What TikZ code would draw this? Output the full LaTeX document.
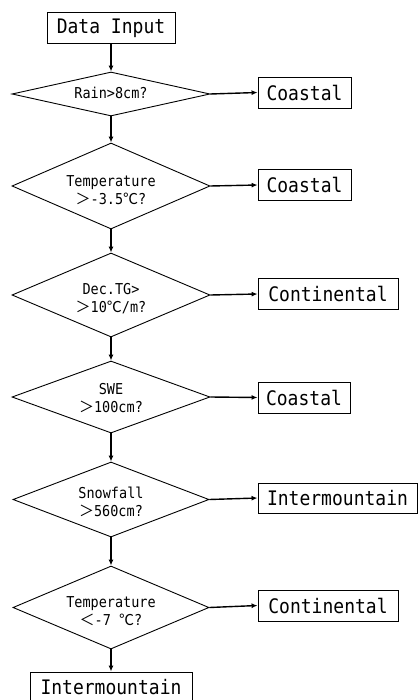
\documentclass[tikz,border=0pt]{standalone}
\usepackage{fontspec}
\setmainfont{DejaVu Sans Mono}[FakeStretch=0.9]
\newfontfamily\cjk{Noto Sans CJK JP}
\usetikzlibrary{shapes.geometric,arrows.meta}
\newcommand\dtxt[2]{\raisebox{-#1}[\height][\depth]{\begin{tabular}{@{}c@{}}#2\end{tabular}}}
\tikzset{
  bigbox/.style={draw,line width=0.9pt,inner sep=0pt,minimum height=31pt,
    font=\fontsize{20}{22}\selectfont},
  dec/.style={draw,diamond,line width=0.9pt,inner sep=0pt,minimum width=198pt,
    font=\fontsize{15}{18}\selectfont},
  arr/.style={line width=1.4pt,-{Latex[length=6pt,width=5pt]}}
}
\begin{document}
\begin{tikzpicture}[x=1pt,y=-1pt]
\useasboundingbox (0,0) rectangle (418,700);
\node[bigbox,minimum width=128pt] (in) at (111,28) {Data Input};
\node[dec,minimum height=44pt,shape aspect=4.5] (d1) at (111,94) {\dtxt{1pt}{Rain>8cm?}};
\node[dec,minimum height=86pt,shape aspect=2.3] (d2) at (111,186) {\dtxt{6pt}{Temperature\\{\cjk ＞}-3.5{\cjk ℃}?}};
\node[dec,minimum height=84pt,shape aspect=2.36] (d3) at (111,295) {\dtxt{5pt}{Dec.TG>\\{\cjk ＞}10{\cjk ℃}/m?}};
\node[dec,minimum height=72pt,shape aspect=2.75] (d4) at (111,397) {\dtxt{3pt}{SWE\\{\cjk ＞}100cm?}};
\node[dec,minimum height=75pt,minimum width=196pt,shape aspect=2.61] (d5) at (111,499.5) {\dtxt{4pt}{Snowfall\\{\cjk ＞}560cm?}};
\node[dec,minimum height=83pt,minimum width=196pt,shape aspect=2.36] (d6) at (111,607.5) {\dtxt{5pt}{Temperature\\{\cjk ＜}-7 {\cjk ℃}?}};
\node[bigbox,minimum width=93pt] (c1) at (304.5,92.5) {Coastal};
\node[bigbox,minimum width=93pt] (c2) at (304.5,185) {Coastal};
\node[bigbox,minimum width=140pt] (c3) at (328,294) {Continental};
\node[bigbox,minimum width=92pt] (c4) at (304,397.5) {Coastal};
\node[bigbox,minimum width=159pt,minimum height=30pt] (c5) at (337.5,498) {Intermountain};
\node[bigbox,minimum width=140pt] (c6) at (328,605.5) {Continental};
\node[bigbox,minimum width=162pt] (out) at (111,687.5) {Intermountain};
\draw[arr] (in.south) -- (d1.north);
\draw[arr] (d1.south) -- (d2.north);
\draw[arr] (d2.south) -- (d3.north);
\draw[arr] (d3.south) -- (d4.north);
\draw[arr] (d4.south) -- (d5.north);
\draw[arr] (d5.south) -- (d6.north);
\draw[arr] (d6.south) -- (out.north);
\draw[arr] (d1.east) -- (c1.west);
\draw[arr] (d2.east) -- (c2.west);
\draw[arr] (d3.east) -- (c3.west);
\draw[arr] (d4.east) -- (c4.west);
\draw[arr] (d5.east) -- (c5.west);
\draw[arr] (d6.east) -- (c6.west);
\end{tikzpicture}
\end{document}
